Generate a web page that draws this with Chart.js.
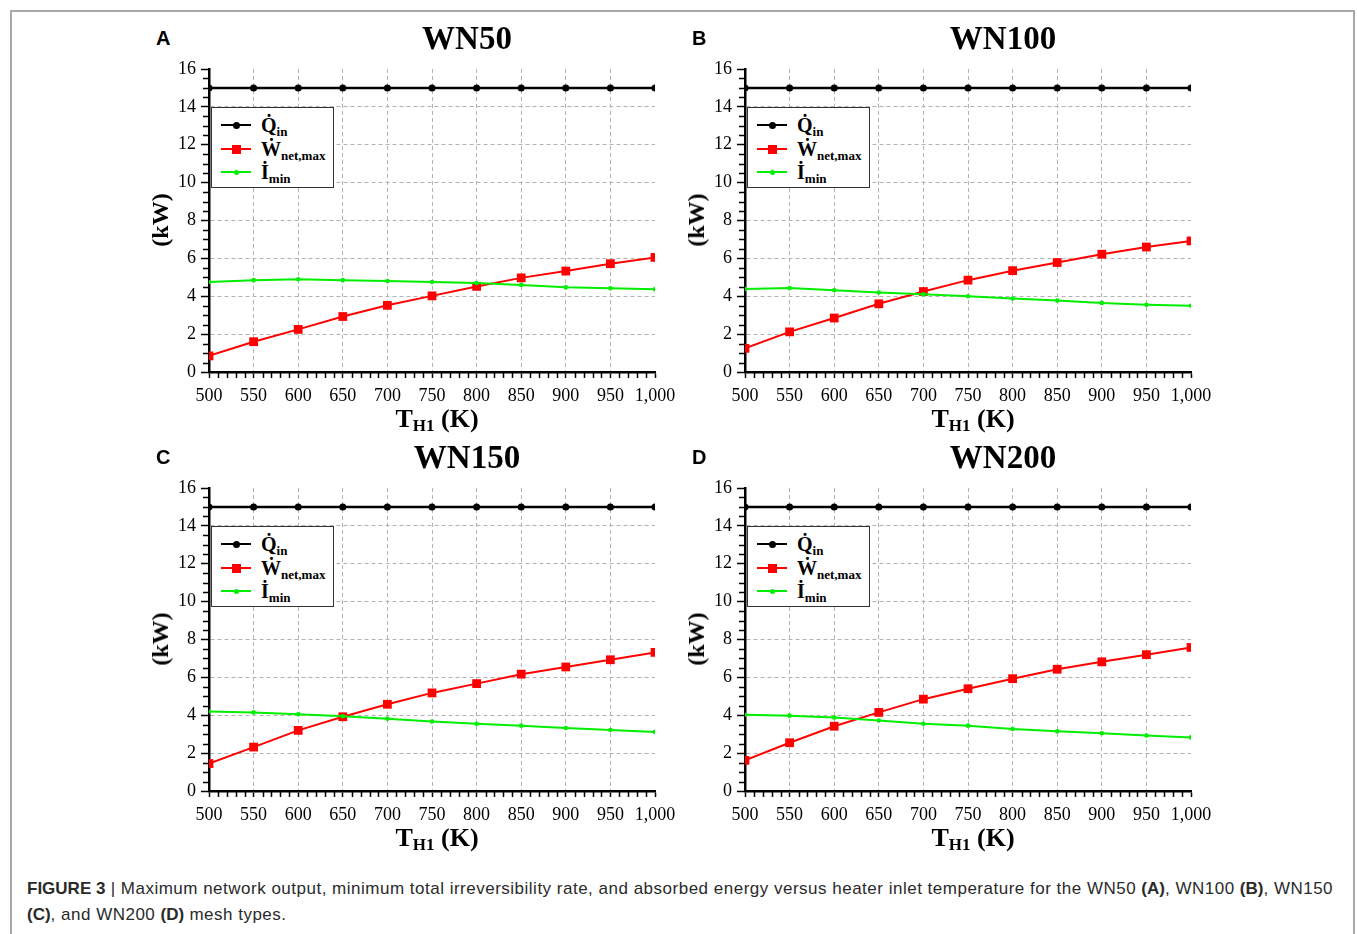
<!DOCTYPE html>
<html>
<head>
<meta charset="utf-8">
<script src="https://cdn.jsdelivr.net/npm/chart.js@4.4.1/dist/chart.umd.min.js"></script>
<style>
  html, body { margin: 0; padding: 0; background: #fff; width: 1357px; height: 934px; overflow: hidden; }
  .frame { position: absolute; left: 10px; top: 10px; width: 1341px; height: 1000px; border: 2px solid #a8a8a8; border-bottom: none; }
  .letter { position: absolute; font-family: "Liberation Sans", Arial, sans-serif; font-weight: bold; font-size: 20px; line-height: 20px; color: #000; }
  .ptitle { position: absolute; font-family: "Liberation Serif", "Times New Roman", serif; font-weight: bold; font-size: 33px; line-height: 34px; color: #000; transform: translate(-50%, -50%); white-space: nowrap; }
  .xtitle { position: absolute; font-family: "Liberation Serif", "Times New Roman", serif; font-weight: bold; font-size: 26px; line-height: 28px; color: #000; transform: translate(-50%, -50%); white-space: nowrap; }
  .xtitle sub { font-size: 17px; vertical-align: baseline; position: relative; top: 4px; }
  .ytitle { position: absolute; font-family: "Liberation Serif", "Times New Roman", serif; font-weight: bold; font-size: 24px; line-height: 26px; color: #000; transform: translate(-50%, -50%) rotate(-90deg); white-space: nowrap; }
  .legend { position: absolute; width: 121px; height: 79px; border: 1.5px solid #333; background: #fff; }
  .lrow { position: absolute; left: 0; width: 121px; height: 24px; }
  .lline { position: absolute; left: 9px; width: 30px; height: 2px; top: 11px; }
  .lmark { position: absolute; }
  .ltext { position: absolute; left: 49px; top: 0; font-family: "Liberation Serif", "Times New Roman", serif; font-weight: bold; font-size: 20px; line-height: 24px; color: #000; white-space: nowrap; }
  .ltext sub { font-size: 13px; vertical-align: baseline; position: relative; top: 4px; }
  .caption { position: absolute; left: 27px; top: 876px; width: 1325px; font-family: "Liberation Sans", Arial, sans-serif; font-size: 17px; line-height: 25.5px; color: #2a2a2a; white-space: nowrap; }
  .caption .r { letter-spacing: 0.5px; }
  canvas { position: absolute; }
</style>
</head>
<body>
<div class="frame"></div>
<div id="root"></div>
<div class="caption"><b>FIGURE 3</b><span class="r"> | Maximum network output, minimum total irreversibility rate, and absorbed energy versus heater inlet temperature for the WN50 </span><b>(A)</b><span class="r">, WN100 </span><b>(B)</b><span class="r">, WN150</span><br><b>(C)</b><span class="r">, and WN200 </span><b>(D)</b><span class="r"> mesh types.</span></div>
<script>
// ---- Data ----
const temps = [500, 550, 600, 650, 700, 750, 800, 850, 900, 950, 1000];
const panelLetters = ["A", "B", "C", "D"];
const panelTitles = ["WN50", "WN100", "WN150", "WN200"];

const qInWN50  = [15, 15, 15, 15, 15, 15, 15, 15, 15, 15, 15];
const wNetWN50 = [0.85, 1.6, 2.25, 2.93, 3.52, 4.02, 4.52, 4.97, 5.33, 5.72, 6.05];
const iMinWN50 = [4.75, 4.85, 4.9, 4.85, 4.8, 4.75, 4.7, 4.6, 4.47, 4.42, 4.37];

const qInWN100  = [15, 15, 15, 15, 15, 15, 15, 15, 15, 15, 15];
const wNetWN100 = [1.25, 2.12, 2.85, 3.6, 4.25, 4.85, 5.35, 5.78, 6.22, 6.6, 6.92];
const iMinWN100 = [4.38, 4.43, 4.32, 4.2, 4.1, 4.0, 3.88, 3.77, 3.65, 3.55, 3.5];

const qInWN150  = [15, 15, 15, 15, 15, 15, 15, 15, 15, 15, 15];
const wNetWN150 = [1.45, 2.32, 3.2, 3.92, 4.58, 5.18, 5.67, 6.17, 6.55, 6.93, 7.32];
const iMinWN150 = [4.2, 4.15, 4.05, 3.95, 3.82, 3.67, 3.55, 3.45, 3.33, 3.22, 3.12];

const qInWN200  = [15, 15, 15, 15, 15, 15, 15, 15, 15, 15, 15];
const wNetWN200 = [1.62, 2.55, 3.42, 4.15, 4.85, 5.4, 5.93, 6.43, 6.82, 7.2, 7.58];
const iMinWN200 = [4.03, 3.98, 3.88, 3.72, 3.55, 3.45, 3.27, 3.15, 3.05, 2.93, 2.83];

const seriesNames = ["Q\u0307in", "W\u0307net,max", "I\u0307min"];
const xTicksStep = 50, yTicksStep = 2;
const xMin = 500, xMax = 1000, yMin = 0, yMax = 16;

const panelData = [
  [qInWN50, wNetWN50, iMinWN50],
  [qInWN100, wNetWN100, iMinWN100],
  [qInWN150, wNetWN150, iMinWN150],
  [qInWN200, wNetWN200, iMinWN200]
];

// ---- Layout ----
const plotOrigins = [[209, 69], [745, 69], [209, 488], [745, 488]];
const PW = 446, PH = 303;
const padL = 70, padT = 20, padR = 34, padB = 40;

const minorTicks = {
  id: 'minorTicks',
  afterDraw(chart) {
    const ctx = chart.ctx, xs = chart.scales.x, ys = chart.scales.y, a = chart.chartArea;
    ctx.save();
    ctx.strokeStyle = '#000';
    ctx.lineWidth = 1.5;
    ctx.beginPath();
    for (let v = xMin + 10; v < xMax; v += 10) {
      if (v % 50 === 0) continue;
      const px = Math.round(xs.getPixelForValue(v)) + 0.5;
      ctx.moveTo(px, a.bottom + 1); ctx.lineTo(px, a.bottom + 6);
    }
    for (let v = yMin + 0.5; v < yMax; v += 0.5) {
      if (v % 2 === 0) continue;
      const py = Math.round(ys.getPixelForValue(v)) + 0.5;
      ctx.moveTo(a.left - 1, py); ctx.lineTo(a.left - 6, py);
    }
    ctx.stroke();
    ctx.restore();
  }
};

const root = document.getElementById('root');
const serif = '"Liberation Serif", "Times New Roman", serif';

function addDiv(cls, html, x, y) {
  const d = document.createElement('div');
  d.className = cls;
  d.innerHTML = html;
  d.style.left = x + 'px';
  d.style.top = y + 'px';
  root.appendChild(d);
  return d;
}

const styles = [
  { color: '#000000', pointStyle: 'circle', radius: 3.5 },
  { color: '#ff0000', pointStyle: 'rect', radius: 6.2 },
  { color: '#00ee00', pointStyle: 'circle', radius: 2.3 }
];

for (let p = 0; p < 4; p++) {
  const [px, py] = plotOrigins[p];
  const cv = document.createElement('canvas');
  const cw = PW + padL + padR, ch = PH + padT + padB;
  cv.width = cw; cv.height = ch;
  cv.style.left = (px - padL) + 'px';
  cv.style.top = (py - padT) + 'px';
  cv.style.width = cw + 'px';
  cv.style.height = ch + 'px';
  root.appendChild(cv);

  const datasets = panelData[p].map((vals, i) => ({
    label: seriesNames[i],
    data: temps.map((t, k) => ({ x: t, y: vals[k] })),
    borderColor: styles[i].color,
    backgroundColor: styles[i].color,
    borderWidth: i === 0 ? 2.4 : 2,
    pointStyle: styles[i].pointStyle,
    pointRadius: styles[i].radius,
    pointHoverRadius: styles[i].radius,
    pointBorderWidth: 0,
    tension: 0,
    order: i === 0 ? 2 : (i === 1 ? 1 : 0)
  }));

  new Chart(cv, {
    type: 'line',
    data: { datasets },
    options: {
      responsive: false,
      animation: false,
      devicePixelRatio: 1,
      layout: { padding: { left: 0, top: padT, right: padR, bottom: 0 } },
      plugins: { legend: { display: false }, tooltip: { enabled: false }, title: { display: false } },
      scales: {
        x: {
          type: 'linear', min: xMin, max: xMax,
          afterFit(s) { s.height = padB; },
          ticks: { stepSize: xTicksStep, color: '#000', padding: 7, maxRotation: 0, autoSkip: false,
                   font: { family: serif, size: 18 } },
          grid: {
            color: (c) => (c.tick && (c.tick.value === xMax || c.tick.value === xMin)) ? 'rgba(0,0,0,0)' : '#b3b3b3',
            lineWidth: 1, tickColor: '#000', tickLength: 6, tickWidth: 1.5
          },
          border: { color: '#000', width: 2.5, dash: [4, 3] }
        },
        y: {
          type: 'linear', min: yMin, max: yMax,
          afterFit(s) { s.width = padL; },
          ticks: { stepSize: yTicksStep, color: '#000', padding: 5,
                   font: { family: serif, size: 18 } },
          grid: {
            color: (c) => (c.tick && (c.tick.value === yMax || c.tick.value === yMin)) ? 'rgba(0,0,0,0)' : '#b3b3b3',
            lineWidth: 1, tickColor: '#000', tickLength: 8, tickWidth: 1.5
          },
          border: { color: '#000', width: 2.5, dash: [4, 3] }
        }
      }
    },
    plugins: [minorTicks]
  });

  // Texts
  addDiv('letter', panelLetters[p], px - 53, py - 41);
  addDiv('ptitle', panelTitles[p], px + 258, py - 31);
  addDiv('xtitle', 'T<sub>H1</sub> (K)', px + 228, py + 351);
  addDiv('ytitle', '(kW)', px - 49, py + 151);

  // Legend
  const lg = addDiv('legend', '', px + 2, py + 38);
  const names = ['Q\u0307<sub>in</sub>', '\u1E86<sub>net,max</sub>', '\u0130<sub>min</sub>'];
  const rowTops = [5, 29, 52];
  for (let i = 0; i < 3; i++) {
    const r = document.createElement('div');
    r.className = 'lrow';
    r.style.top = rowTops[i] + 'px';
    const ln = document.createElement('div');
    ln.className = 'lline';
    ln.style.background = styles[i].color;
    r.appendChild(ln);
    const mk = document.createElement('div');
    mk.className = 'lmark';
    const sz = i === 0 ? 7 : (i === 1 ? 9 : 5);
    mk.style.width = sz + 'px'; mk.style.height = sz + 'px';
    mk.style.left = (24 - sz / 2) + 'px';
    mk.style.top = (12 - sz / 2) + 'px';
    mk.style.background = styles[i].color;
    mk.style.borderRadius = i === 1 ? '0' : '50%';
    r.appendChild(mk);
    const tx = document.createElement('div');
    tx.className = 'ltext';
    tx.innerHTML = names[i];
    r.appendChild(tx);
    lg.appendChild(r);
  }
}
</script>
</body>
</html>
